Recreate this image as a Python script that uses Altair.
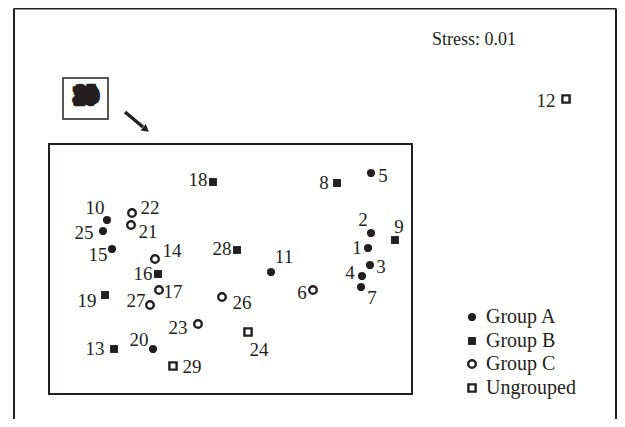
import altair as alt
import pandas as pd

# ---- data: MDS ordination of 29 samples ----
sample_ids = list(range(1, 30))
groups = ["A", "A", "A", "A", "A", "C", "A", "B", "B", "A",
          "A", "U", "B", "C", "A", "B", "C", "B", "B", "A",
          "C", "C", "C", "U", "A", "C", "C", "B", "U"]
mds1 = [0.60, 0.63, 0.62, 0.54, 0.63, 0.05, 0.53, 0.29, 0.87, -2.01,
        -0.37, 2.58, -1.94, -1.53, -1.96, -1.50, -1.49, -0.95, -2.03, -1.55,
        -1.77, -1.76, -1.10, -0.60, -2.05, -0.86, -1.58, -0.71, -1.35]
mds2 = [0.01, 0.16, -0.16, -0.27, 0.76, -0.41, -0.38, 0.66, 0.09, 0.29,
        -0.23, 1.50, -1.00, -0.10, 0.00, -0.25, -0.41, 0.67, -0.46, -1.00,
        0.24, 0.36, -0.75, -0.83, 0.18, -0.48, -0.56, -0.01, -1.17]

group_codes = ["A", "B", "C", "U"]
group_names = ["Group A", "Group B", "Group C", "Ungrouped"]
stress_text = "Stress: 0.01"
ghost_labels = ["23", "28", "26", "29", "25", "28", "23", "26"]

# ---- layout (pixels) ----
label_dx = {1: -11, 2: -8, 3: 11, 4: -12, 5: 12, 6: -11, 7: 11, 8: -13, 9: 4, 10: -12,
            11: 13, 12: -20, 13: -19, 14: 17, 15: -14, 16: -15, 17: 14, 18: -15, 19: -18, 20: -14,
            21: 17, 22: 18, 23: -20, 24: 11, 25: -19, 26: 20, 27: -14, 28: -15, 29: 19}
label_dy = {1: 0, 2: -13, 3: 2, 4: -3, 5: 3, 6: 3, 7: 11, 8: 0, 9: -13, 10: -12,
            11: -15, 12: 2, 13: 0, 14: -8, 15: 6, 16: 0, 17: 2, 18: -2, 19: 6, 20: -9,
            21: 7, 22: -5, 23: 4, 24: 18, 25: 2, 26: 6, 27: -4, 28: -1, 29: 1}
PX = 100.0  # pixels per unit

W, H = 609, 411
XD = [-3.0, 3.09]
YD = [-1.70, 2.41]
INK = "#231f20"
FONT = "Liberation Serif"

df = pd.DataFrame({"id": sample_ids, "group": groups, "x": mds1, "y": mds2})
df["label"] = df["id"].astype(str)
df["lx"] = df["x"] + df["id"].map(label_dx) / PX
df["ly"] = df["y"] - df["id"].map(label_dy) / PX

leg = pd.DataFrame({"group": group_codes, "name": group_names})
leg["x"] = 1.64
leg["y"] = [-0.68, -0.92, -1.15, -1.39]
leg["tx"] = 1.78

xs = alt.Scale(domain=XD, nice=False, zero=False)
ys = alt.Scale(domain=YD, nice=False, zero=False)
shape_scale = alt.Scale(domain=group_codes, range=["circle", "square", "circle", "square"])
size_scale = alt.Scale(domain=group_codes, range=[68, 52, 40, 44])

def X(f):
    return alt.X(f, type="quantitative", scale=xs, axis=None)

def Y(f):
    return alt.Y(f, type="quantitative", scale=ys, axis=None)

pts = pd.concat([df[["group", "x", "y"]], leg[["group", "x", "y"]]], ignore_index=True)

filled = alt.Chart(pts).transform_filter(
    alt.FieldOneOfPredicate(field="group", oneOf=["A", "B"])
).mark_point(filled=True, color=INK, opacity=1).encode(
    x=X("x"), y=Y("y"),
    shape=alt.Shape("group:N", scale=shape_scale, legend=None),
    size=alt.Size("group:N", scale=size_scale, legend=None),
)

opened = alt.Chart(pts).transform_filter(
    alt.FieldOneOfPredicate(field="group", oneOf=["C", "U"])
).mark_point(filled=False, color=INK, strokeWidth=2.4, opacity=1).encode(
    x=X("x"), y=Y("y"),
    shape=alt.Shape("group:N", scale=shape_scale, legend=None),
    size=alt.Size("group:N", scale=size_scale, legend=None),
)

labels = alt.Chart(df).mark_text(
    font=FONT, fontSize=19, color=INK, align="center", baseline="middle"
).encode(x=X("lx"), y=Y("ly"), text="label:N")

leg_text = alt.Chart(leg).mark_text(
    font=FONT, fontSize=20, color=INK, align="left", baseline="middle"
).encode(x=X("tx"), y=Y("y"), text="name:N")

stress = alt.Chart(pd.DataFrame({"x": [1.66], "y": [2.09], "t": [stress_text]})).mark_text(
    font=FONT, fontSize=18, color=INK, align="center", baseline="middle"
).encode(x=X("x"), y=Y("y"), text="t:N")

# frames
inset = alt.Chart(pd.DataFrame({"x": [-2.59], "x2": [1.04], "y": [1.05], "y2": [-1.45]})).mark_rect(
    fill=None, stroke=INK, strokeWidth=2
).encode(x=X("x"), x2="x2", y=Y("y"), y2="y2")

small_box = alt.Chart(pd.DataFrame({"x": [-2.45], "x2": [-2.00], "y": [1.71], "y2": [1.30]})).mark_rect(
    fill=None, stroke=INK, strokeWidth=1.5
).encode(x=X("x"), x2="x2", y=Y("y"), y2="y2")

ghost = pd.DataFrame({"t": ghost_labels,
                      "x": [-2.25, -2.20, -2.23, -2.19, -2.22, -2.24, -2.21, -2.22],
                      "y": [1.54, 1.53, 1.50, 1.52, 1.56, 1.51, 1.55, 1.53]})
blob = alt.Chart(ghost).mark_text(
    font=FONT, fontSize=21, fontWeight="bold", color=INK, stroke=INK, strokeWidth=2.5,
    align="center", baseline="middle"
).encode(x=X("x"), y=Y("y"), text="t:N")

frame_lines = pd.DataFrame({
    "x": [-2.94, -2.94, 3.08],
    "x2": [-2.94, 3.08, 3.08],
    "y": [2.405, 2.405, 2.405],
    "y2": [-1.70, 2.405, -1.70],
})
outer = alt.Chart(frame_lines).mark_rule(color=INK, strokeWidth=2).encode(
    x=X("x"), x2="x2", y=Y("y"), y2="y2")

arrow_shaft = alt.Chart(pd.DataFrame({"x": [-1.83], "x2": [-1.65], "y": [1.37], "y2": [1.22]})).mark_rule(
    color=INK, strokeWidth=3.5
).encode(x=X("x"), x2="x2", y=Y("y"), y2="y2")

arrow_head = alt.Chart(pd.DataFrame({"x": [-1.62], "y": [1.195]})).mark_point(
    shape="triangle-up", filled=True, color=INK, size=70, angle=129, opacity=1
).encode(x=X("x"), y=Y("y"))

chart = alt.layer(
    outer, inset, small_box, blob, arrow_shaft, arrow_head,
    filled, opened, labels, leg_text, stress
).properties(width=W, height=H, autosize="none", padding=0).configure_view(stroke=None)

chart.save("out.html", embed_options={"renderer": "svg", "actions": False})
